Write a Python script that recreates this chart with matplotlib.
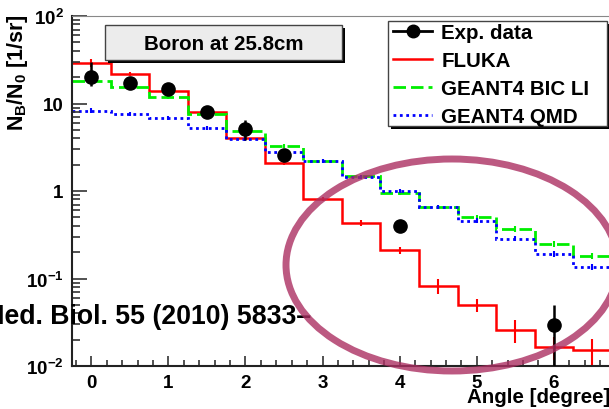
import numpy as np
import matplotlib
matplotlib.use("Agg")
import matplotlib.pyplot as plt
from matplotlib.patches import Rectangle, Ellipse
from matplotlib.lines import Line2D
from matplotlib.ticker import FixedLocator, FixedFormatter, MultipleLocator, LogLocator, NullFormatter

plt.rcParams['font.family'] = ['Liberation Sans', 'DejaVu Sans']
plt.rcParams['font.weight'] = 'bold'
plt.rcParams['mathtext.fontset'] = 'custom'
plt.rcParams['mathtext.rm'] = 'Liberation Sans:bold'
plt.rcParams['mathtext.bf'] = 'Liberation Sans:bold'
plt.rcParams['mathtext.it'] = 'Liberation Sans:bold'

# bin centres (degree), bin width 0.5
angle = np.arange(0, 7, 0.5)
edges = np.append(angle - 0.25, angle[-1] + 0.25)

fluka = [29, 21.6, 14.0, 8.1, 4.0, 2.07, 0.81, 0.43, 0.21, 0.083, 0.050, 0.026, 0.0166, 0.0152]
fluka_err = [0.1, 0.05, 0.05, 0.05, 0.05, 0.05, 0.06, 0.08, 0.1, 0.2, 0.17, 0.3, 0.3, 0.33]
bic = [18, 15.5, 11.8, 7.6, 4.8, 3.3, 2.2, 1.47, 0.96, 0.66, 0.50, 0.37, 0.25, 0.18]
qmd = [8.3, 7.6, 6.9, 5.3, 3.9, 2.8, 2.2, 1.45, 1.0, 0.66, 0.46, 0.285, 0.19, 0.136]
mc_err = [0.06, 0.05, 0.05, 0.05, 0.05, 0.05, 0.05, 0.05, 0.06, 0.06, 0.07, 0.07, 0.08, 0.08]

exp_angle = [0, 0.5, 1, 1.5, 2, 2.5, 4, 6]
exp_val = [20, 17, 14.5, 8.1, 5.1, 2.6, 0.40, 0.0295]
exp_lo = [4, 2, 1.5, 1.0, 1.3, 0.4, 0.04, 0.0200]
exp_hi = [10, 2, 1.5, 1.0, 1.3, 0.4, 0.04, 0.0200]

ytick_vals = [1e-2, 1e-1, 1, 10, 1e2]
ytick_labels = ['$10^{-2}$', '$10^{-1}$', '1', '10', '$10^{2}$']

W, H = 609, 410


def fx(x):
    return x / W


def fy(y):
    return 1 - y / H


fig = plt.figure(figsize=(W / 100, H / 100), dpi=100)
ax = fig.add_axes([fx(72), fy(367), (631 - 72) / W, 350 / H])
ax.set_yscale('log')
ax.set_xlim(-0.25, 7.0)
ax.set_ylim(1e-2, 1e2)

red, green, blue = '#ff0000', '#00ee00', '#0000ff'
ax.stairs(fluka, edges, baseline=None, color=red, lw=1.8)
ax.stairs(bic, edges, baseline=None, color=green, lw=2, linestyle=(0, (4.5, 1.8)))
ax.stairs(qmd, edges, baseline=None, color=blue, lw=2, linestyle=(0, (1, 1.3)))

ax.errorbar(angle, fluka, yerr=np.array(fluka) * np.array(fluka_err), fmt='none', ecolor=red, elinewidth=1.5)
ax.errorbar(angle, bic, yerr=np.array(bic) * np.array(mc_err), fmt='none', ecolor=green, elinewidth=1.5)
ax.errorbar(angle, qmd, yerr=np.array(qmd) * np.array(mc_err), fmt='none', ecolor=blue, elinewidth=1.5)
ax.errorbar(exp_angle, exp_val, yerr=[exp_lo, exp_hi], fmt='o', color='black', ms=9.5,
            elinewidth=1.8, capsize=0, zorder=5)

ax.yaxis.set_major_locator(FixedLocator(ytick_vals))
ax.yaxis.set_major_formatter(FixedFormatter(ytick_labels))
ax.yaxis.set_minor_locator(LogLocator(base=10, subs=np.arange(2, 10)))
ax.yaxis.set_minor_formatter(NullFormatter())
ax.xaxis.set_major_locator(MultipleLocator(1))
ax.xaxis.set_minor_locator(MultipleLocator(0.2))

ax.tick_params(axis='both', which='both', direction='in', labelsize=13.5, width=1.2, color='#333333')
ax.tick_params(axis='x', which='major', length=7.5, pad=6)
ax.tick_params(axis='x', which='minor', length=4)
ax.tick_params(axis='y', which='major', length=11, pad=6)
ax.tick_params(axis='y', which='minor', length=6)
for side in ['left', 'bottom']:
    ax.spines[side].set_linewidth(1.5)
    ax.spines[side].set_color('#222222')
ax.spines['top'].set_color('#888888')
ax.spines['right'].set_visible(False)

# axis titles (ROOT style, aligned to the ends)
fig.text(fx(18), fy(14), r'$N_{B}/N_{0}$ [1/sr]', rotation=90, ha='center', va='top', fontsize=15.5)
fig.text(fx(467), fy(398), 'Angle [degree]', ha='left', va='center', fontsize=14.8)

# title box with shadow
fig.patches.append(Rectangle((fx(108), fy(64)), (342 - 105) / W, 35 / H, transform=fig.transFigure,
                             facecolor='black', edgecolor='none', zorder=4))
fig.patches.append(Rectangle((fx(105), fy(61)), (342 - 105) / W, 35 / H, transform=fig.transFigure,
                             facecolor='#ececec', edgecolor='#444444', lw=1, zorder=4))
fig.text(fx(224), fy(44), 'Boron at 25.8cm', ha='center', va='center', fontsize=14.8, zorder=5)

# legend box with shadow
fig.patches.append(Rectangle((fx(391), fy(130)), (607 - 388) / W, 105 / H, transform=fig.transFigure,
                             facecolor='black', edgecolor='none', zorder=4))
fig.patches.append(Rectangle((fx(388), fy(127)), (607 - 388) / W, 105 / H, transform=fig.transFigure,
                             facecolor='white', edgecolor='#444444', lw=1, zorder=4))
handles = [
    Line2D([], [], color='black', marker='o', ms=9, lw=2),
    Line2D([], [], color=red, lw=1.8),
    Line2D([], [], color=green, lw=2, linestyle=(0, (4.5, 1.8))),
    Line2D([], [], color=blue, lw=2, linestyle=(0, (1, 1.3))),
]
labels = ['Exp. data', 'FLUKA', 'GEANT4 BIC LI', 'GEANT4 QMD']
leg = fig.legend(handles, labels, loc='upper left', bbox_to_anchor=(fx(393), fy(24)),
                 bbox_transform=fig.transFigure, frameon=False, fontsize=14.8,
                 handlelength=1.9, handletextpad=0.45, labelspacing=0.44,
                 borderpad=0, borderaxespad=0)
leg.set_zorder(6)

# citation text and the hand-drawn ellipse
fig.text(fx(311), fy(324), 'Phys. Med. Biol. 55 (2010) 5833\u2013', ha='right', va='baseline',
         fontsize=19.15, zorder=7)
fig.patches.append(Ellipse((fx(452), fy(266)), 332 / W, 212 / H, angle=0, transform=fig.transFigure,
                           facecolor='none', edgecolor='#ab2f62', lw=5, alpha=0.8, zorder=8))

fig.savefig('out.png', dpi=100)
